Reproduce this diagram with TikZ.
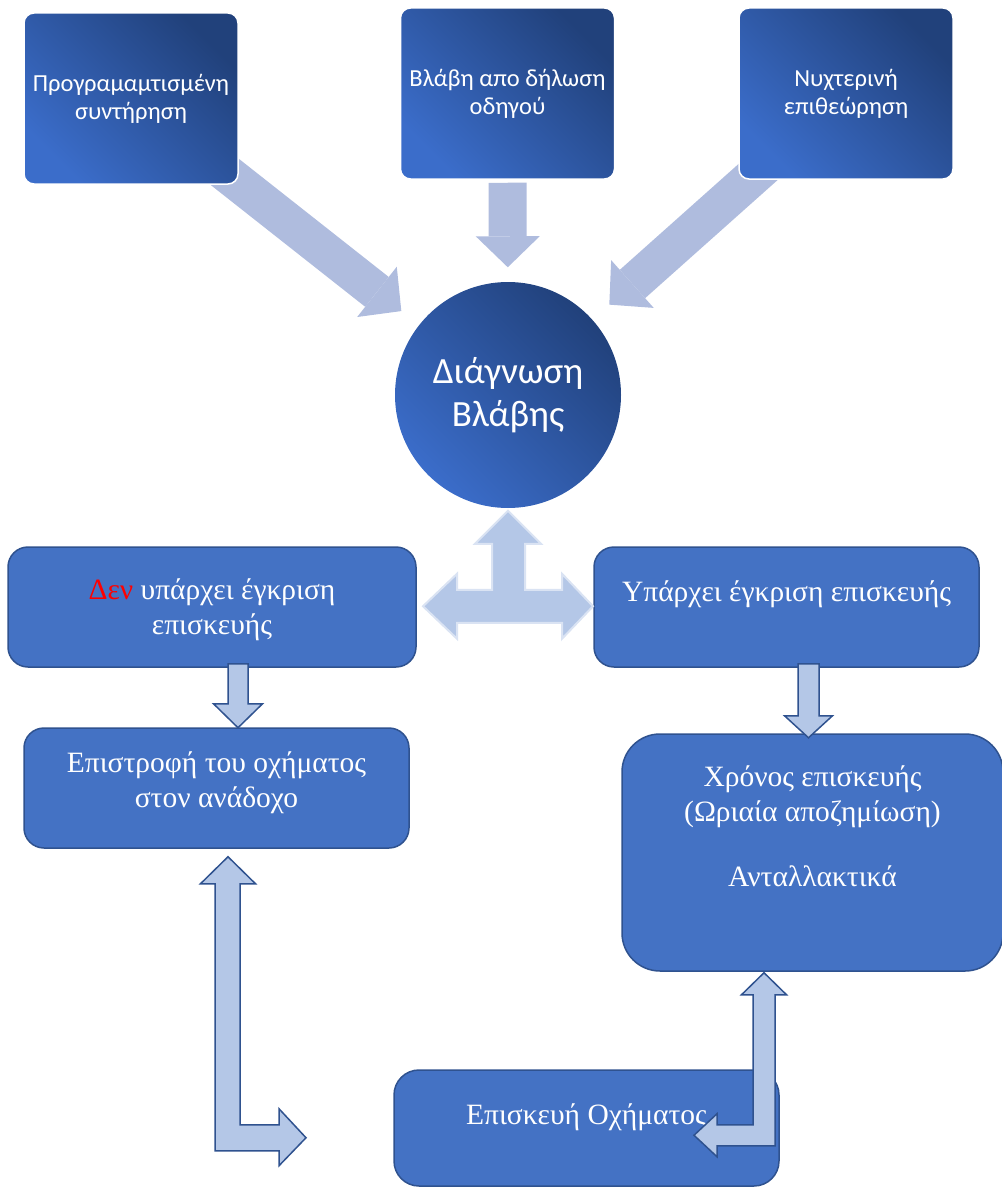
\documentclass[tikz,border=0pt]{standalone}
\usepackage{fontspec}
\setmainfont{Liberation Serif}
\newfontfamily\calibri{Carlito}
\usetikzlibrary{positioning}
\usetikzlibrary{arrows.meta}
\pgfdeclarelayer{background}
\pgfsetlayers{background,main}
\definecolor{gradDark}{HTML}{21417B}
\definecolor{gradLight}{HTML}{3B6DCA}
\definecolor{boxFill}{HTML}{4472C4}
\definecolor{boxLine}{HTML}{2F528F}
\definecolor{arrowFill}{HTML}{B4C7E7}
\definecolor{arrowEdge}{HTML}{DAE3F3}
\definecolor{arrowTop}{HTML}{AFBCDE}
\tikzset{
	node_grad/.style = {
		align=center,
		inner sep=0pt,
		text=white,
		font=\calibri\fontsize{24.5}{28}\selectfont,
		draw=white,
		line width=1.5pt,
		top color=gradDark,
		bottom color=gradLight,
		shading angle=-45
	},
	node_top/.style = {
		node_grad,
		rectangle,
		rounded corners=10pt,
		minimum width=214pt,
		minimum height=171pt
	},
	node_diag/.style = {
		node_grad,
		circle,
		draw=none,
		minimum size=226pt,
		font=\calibri\fontsize{37}{43}\selectfont
	},
	node_box/.style = {
		rectangle,
		rounded corners=20pt,
		draw=boxLine,
		fill=boxFill,
		line width=1.5pt,
		minimum width=385pt,
		minimum height=120pt
	},
	node_text/.style = {
		align=center,
		inner sep=0pt,
		text=white,
		font=\fontsize{29.5}{35}\selectfont
	},
	arrow_top/.style = {
		draw=arrowTop,
		line width=38pt,
		-{Triangle[length=31pt, width=64pt, line width=0pt]}
	},
	arrow_b/.style = {
		fill=arrowFill,
		draw=boxLine,
		line width=1.5pt,
		line join=miter
	},
	arrow_w/.style = {
		arrow_b,
		draw=arrowEdge,
		line width=2pt
	}
}

\begin{document}
\begin{tikzpicture}[x=1pt, y=-1pt]
\useasboundingbox (0,0) rectangle (1001,1188);

\node [node_top] (prog) at (131,98.5) {Προγραμαμτισμένη\\συντήρηση};
\node [node_top] (driver) at (507.5,93.5) {Βλάβη απο δήλωση\\οδηγού};
\node [node_top] (night) at (846,93.5) {Νυχτερινή\\επιθεώρηση};
\node [node_diag] (diag) at (508,395) {Διάγνωση\\Βλάβης};

\begin{pgfonlayer}{background}
\draw [arrow_top, shorten <=-30pt, shorten >=22pt] (prog) -- (diag);
\draw [arrow_top, shorten <=3pt, shorten >=14pt] (driver) -- (diag);
\draw [arrow_top, shorten <=-25pt, shorten >=22pt] (night) -- (diag);
\end{pgfonlayer}

\node [node_box, minimum width=408pt] (no_ok) at (212,607) {};
\node [node_box] (ok) at (786.5,607) {};
\node [node_box] (back) at (216.5,788) {};
\node [node_box, rounded corners=38pt, minimum width=381pt, minimum height=237pt] (time) at (812.5,852.5) {};
\node [node_box, rounded corners=25pt, minimum height=116pt] (repair) at (586.5,1128) {};

\node [node_text, below=32pt of no_ok.north] {\textcolor{red}{Δεν} υπάρχει έγκριση\\επισκευής};
\node [node_text, below=34pt of ok.north] {Υπάρχει έγκριση επισκευής};
\node [node_text, below=24pt of back.north] {Επιστροφή του οχήματος\\στον ανάδοχο};
\node [node_text, below=32pt of time.north] {Χρόνος επισκευής\\(Ωριαία αποζημίωση)\\[30pt]Ανταλλακτικά};
\node [node_text, below=34pt of repair.north] {Επισκευή Οχήματος};

\draw [arrow_w] ([yshift=-2pt]diag.south) -- ++(33,33) -- ++(-16,0) -- ++(0,46) -- ++(37,0) -- ++(0,-16) -- ++(31,32.5) -- ++(-31,32.5) -- ++(0,-16) -- ++(-105,0) -- ++(0,16) -- ++(-34,-32.5) -- ++(34,-32.5) -- ++(0,16) -- ++(35,0) -- ++(0,-46) -- ++(-17,0) -- cycle;
\draw [arrow_b] ([xshift=16pt, yshift=4pt]no_ok.south) -- ++(20,0) -- ++(0,40) -- ++(14.5,0) -- ++(-24.5,24) -- ++(-24.5,-24) -- ++(14.5,0) -- cycle;
\draw [arrow_b] ([xshift=11.5pt, yshift=4pt]ok.south) -- ++(21,0) -- ++(0,52) -- ++(13.5,0) -- ++(-24,22) -- ++(-24,-22) -- ++(13.5,0) -- cycle;
\draw [arrow_b] ([xshift=11.5pt, yshift=-8pt]back.south) -- ++(27.5,27) -- ++(-15.5,0) -- ++(0,241) -- ++(39,0) -- ++(0,-16) -- ++(27,29) -- ++(-27,28) -- ++(0,-15) -- ++(-64,0) -- ++(0,-267) -- ++(-14.5,0) -- cycle;
\draw [arrow_b] ([xshift=-48.5pt, yshift=-1pt]time.south) -- ++(22.5,22) -- ++(-11.5,0) -- ++(0,151) -- ++(-58,0) -- ++(0,11) -- ++(-23,-21.5) -- ++(23,-21.5) -- ++(0,11) -- ++(36,0) -- ++(0,-130) -- ++(-11.5,0) -- cycle;
\end{tikzpicture}
\end{document}
